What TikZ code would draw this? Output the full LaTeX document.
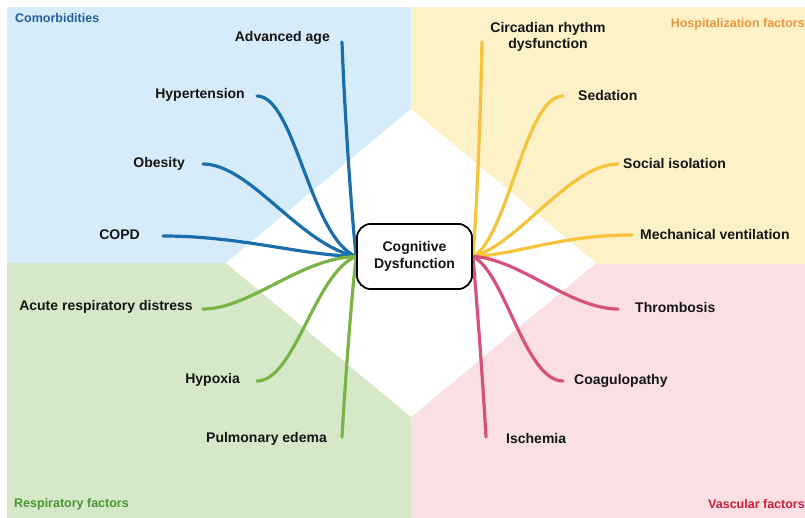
\documentclass[tikz,border=0pt]{standalone}
\usepackage{fontspec}
\setmainfont{Liberation Sans}
\definecolor{bgblue}{RGB}{215,236,250}
\definecolor{bgyellow}{RGB}{253,241,200}
\definecolor{bggreen}{RGB}{213,233,200}
\definecolor{bgpink}{RGB}{250,224,229}
\definecolor{cblue}{RGB}{26,110,172}
\definecolor{cyellow}{RGB}{245,196,58}
\definecolor{cgreen}{RGB}{122,180,70}
\definecolor{cpink}{RGB}{214,82,122}
\definecolor{tblue}{RGB}{35,95,160}
\definecolor{torange}{RGB}{236,150,60}
\definecolor{tgreen}{RGB}{70,150,50}
\definecolor{tred}{RGB}{200,30,60}
\definecolor{txt}{RGB}{20,20,20}
\begin{document}
\begin{tikzpicture}[x=1pt,y=-1pt,
  lab/.style={font=\fontsize{14}{16.5}\selectfont\bfseries, text=txt, inner sep=0pt},
  cat/.style={font=\fontsize{12.5}{14}\selectfont\bfseries, inner sep=0pt},
  conn/.style={line width=3.2pt, line cap=round},
  centerbox/.style={lab, draw=black, line width=1.6pt, rounded corners=14pt, minimum width=115pt, minimum height=65pt, fill=white, align=center},
]
\useasboundingbox (0,0) rectangle (805,518);
% quadrants
\fill[bgblue] (7,7) rectangle (411,263);
\fill[bgyellow] (411,7) rectangle (805,264);
\fill[bggreen] (7,263) rectangle (411,518);
\fill[bgpink] (411,264) rectangle (805,518);
\fill[white] (411,109) -- (596,263) -- (411,417) -- (226,263) -- cycle;
% category labels
\node[cat, text=tblue, anchor=west] (catA) at (15,18) {Comorbidities};
\node[cat, text=torange, anchor=east] (catB) at (805,24) {Hospitalization factors};
\node[cat, text=tgreen, anchor=west] (catC) at (14,504) {Respiratory factors};
\node[cat, text=tred, anchor=east] (catD) at (805,504) {Vascular factors};
% center node (position reference)
\node[centerbox] (cd) at (414.5,256.5) {Cognitive\\Dysfunction};
% labels
\node[lab, anchor=east] (n1) at (330,38) {Advanced age};
\node[lab, anchor=east] (n2) at (245,95) {Hypertension};
\node[lab, anchor=east] (n3) at (185,164) {Obesity};
\node[lab, anchor=east] (n4) at (140,235) {COPD};
\node[lab, anchor=east] (n5) at (193,307) {Acute respiratory distress};
\node[lab, anchor=east] (n6) at (240,380) {Hypoxia};
\node[lab, anchor=east] (n7) at (327,439) {Pulmonary edema};
\node[lab, align=center] (n8) at (548,37) {Circadian rhythm\\dysfunction};
\node[lab, anchor=west] (n9) at (578,95) {Sedation};
\node[lab, anchor=west] (n10) at (623,163) {Social isolation};
\node[lab, anchor=west] (n11) at (640,234) {Mechanical ventilation};
\node[lab, anchor=west] (n12) at (635,307) {Thrombosis};
\node[lab, anchor=west] (n13) at (574,381) {Coagulopathy};
\node[lab, anchor=west] (n14) at (506,438) {Ischemia};
% connector ends
\coordinate (e1) at (342,42);
\coordinate (e2) at (257,96);
\coordinate (e3) at (203,164);
\coordinate (e4) at (163,236);
\coordinate (e5) at (203,309);
\coordinate (e6) at (257,381);
\coordinate (e7) at (342,437);
\coordinate (e8) at (482,42);
\coordinate (e9) at (563,96);
\coordinate (e10) at (618,164);
\coordinate (e11) at (632,235);
\coordinate (e12) at (618,309);
\coordinate (e13) at (563,381);
\coordinate (e14) at (486,437);
% connectors
\begin{scope}[conn]
\draw[cblue] (cd.west) .. controls (351,210) and (344,100) .. (e1);
\draw[cblue] (cd.west) .. controls (310,238) and (295,96) .. (e2);
\draw[cblue] (cd.west) .. controls (300,245) and (250,164) .. (e3);
\draw[cblue] (cd.west) .. controls (300,255) and (240,236) .. (e4);
\draw[cgreen] (cd.west) .. controls (300,258) and (250,309) .. (e5);
\draw[cgreen] (cd.west) .. controls (315,272) and (295,381) .. (e6);
\draw[cgreen] (cd.west) .. controls (351,300) and (344,400) .. (e7);
\draw[cyellow] (cd.east) .. controls (477,210) and (481,100) .. (e8);
\draw[cyellow] (cd.east) .. controls (508,238) and (525,96) .. (e9);
\draw[cyellow] (cd.east) .. controls (518,245) and (570,164) .. (e10);
\draw[cyellow] (cd.east) .. controls (515,255) and (560,235) .. (e11);
\draw[cpink] (cd.east) .. controls (518,258) and (570,309) .. (e12);
\draw[cpink] (cd.east) .. controls (505,272) and (525,381) .. (e13);
\draw[cpink] (cd.east) .. controls (477,300) and (484,400) .. (e14);
\end{scope}
% node border on top of the connector ends
\node[centerbox] (cdtop) at (cd.center) {Cognitive\\Dysfunction};
\end{tikzpicture}
\end{document}
